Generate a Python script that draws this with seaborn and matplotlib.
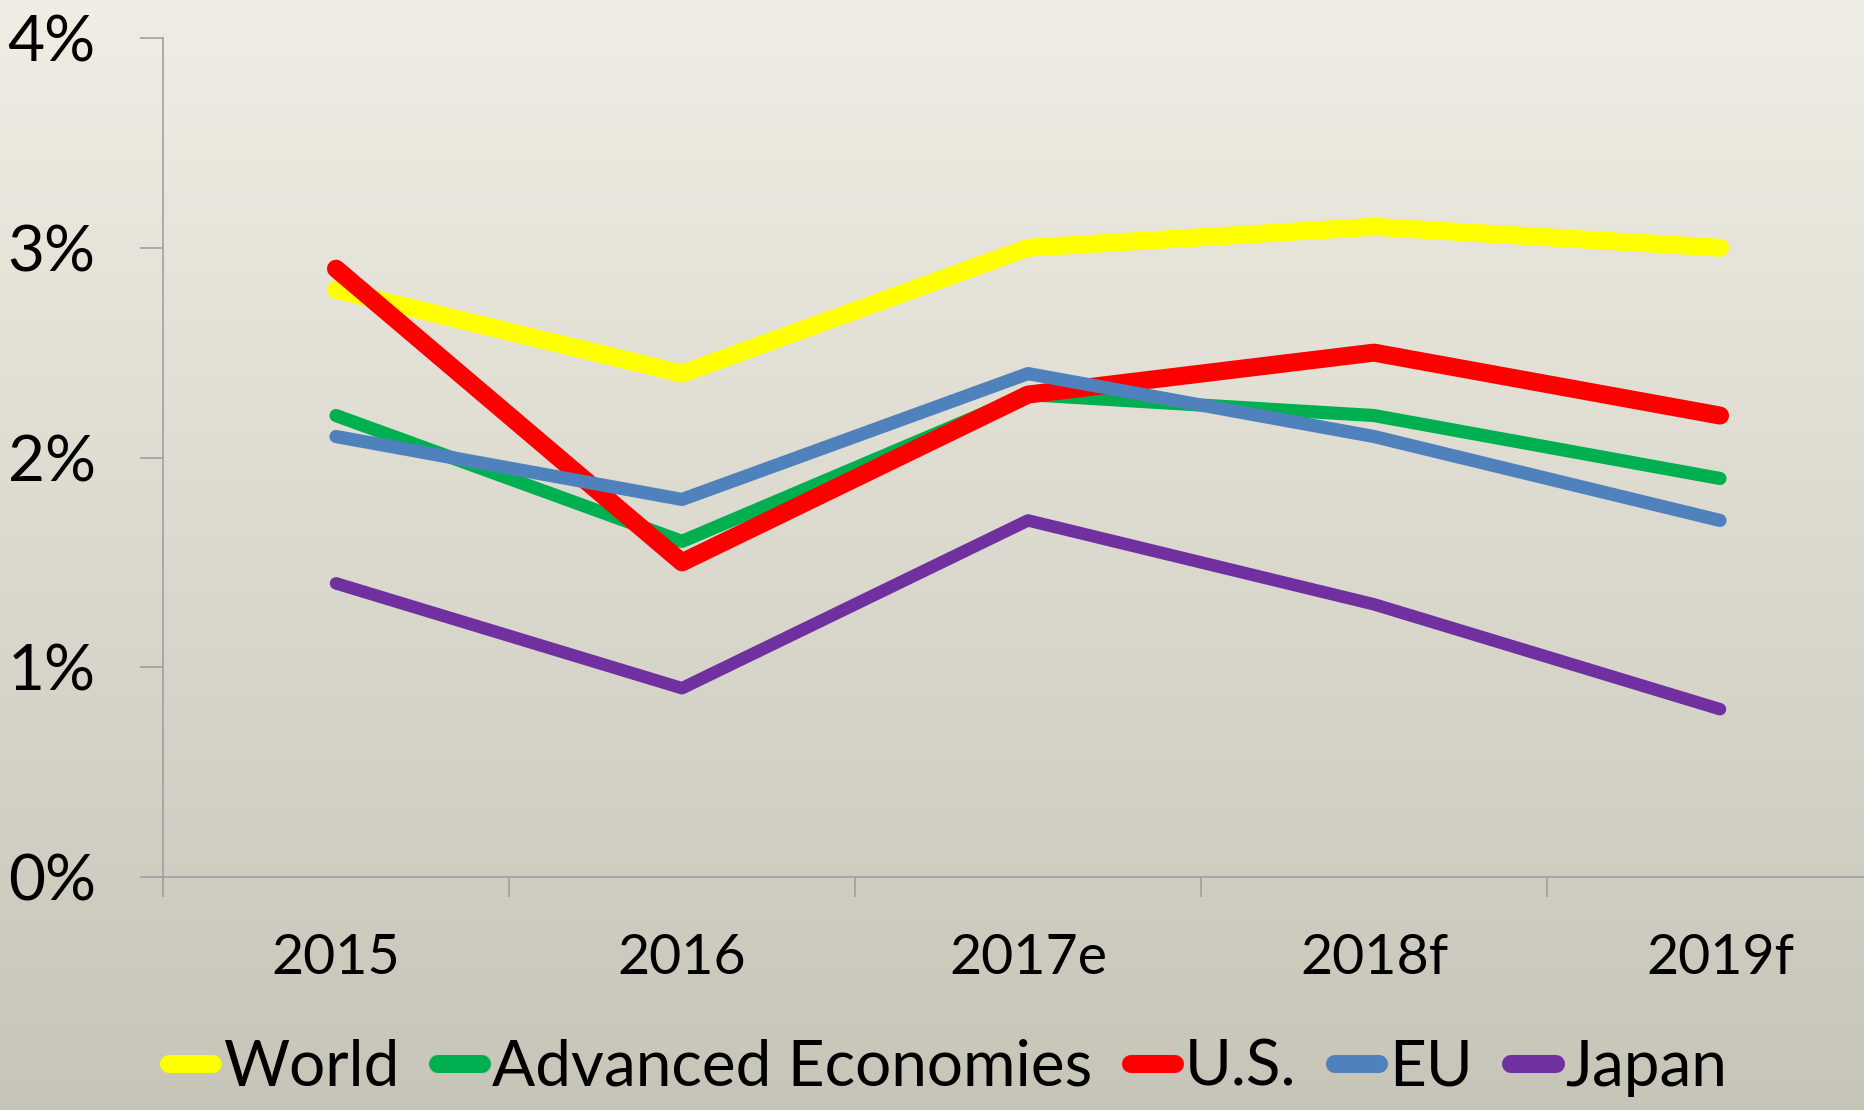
import numpy as np
import pandas as pd
import seaborn as sns
import matplotlib.pyplot as plt
from matplotlib.colors import LinearSegmentedColormap
from matplotlib.lines import Line2D

years = ['2015', '2016', '2017e', '2018f', '2019f']
world = [2.8, 2.4, 3.0, 3.1, 3.0]
advanced = [2.2, 1.6, 2.3, 2.2, 1.9]
us = [2.9, 1.5, 2.3, 2.5, 2.2]
eu = [2.1, 1.8, 2.4, 2.1, 1.7]
japan = [1.4, 0.9, 1.7, 1.3, 0.8]

series_names = ['World', 'Advanced Economies', 'U.S.', 'EU', 'Japan']
series_values = [world, advanced, us, eu, japan]
colors = ['#ffff00', '#00b050', '#ff0000', '#4f81bd', '#7030a0']
widths = [13, 9.5, 13, 9.5, 9]

sns.set_style('white')
plt.rcParams['font.family'] = ['Lato', 'DejaVu Sans']
plt.rcParams['text.color'] = 'black'
plt.rcParams['xtick.labelcolor'] = 'black'
plt.rcParams['ytick.labelcolor'] = 'black'

fig = plt.figure(figsize=(18.65, 11.10), dpi=100)

# gradient background
bg = fig.add_axes([0, 0, 1, 1], zorder=0)
cmap = LinearSegmentedColormap.from_list('bg', ['#f0eee4', '#c7c4b8'])
bg.imshow(np.linspace(0, 1, 256).reshape(-1, 1), aspect='auto', cmap=cmap,
          extent=[0, 1, 0, 1])
bg.axis('off')

ax = fig.add_axes([163 / 1865, 233 / 1110, 1 - 163 / 1865, (877 - 38) / 1110], zorder=1)
ax.patch.set_alpha(0)

for name, vals, c, lw in zip(series_names, series_values, colors, widths):
    df = pd.DataFrame({'year': years, 'value': vals})
    sns.lineplot(data=df, x='year', y='value', ax=ax, color=c, lw=lw,
                 solid_capstyle='round', solid_joinstyle='round', label=name,
                 legend=False)

ax.set_ylim(0, 4)
ax.set_xlim(-0.5, (1865 - 163) / 346 - 0.5)
ax.set_yticks([0, 1, 2, 3, 4])
ax.set_yticklabels(['0%', '1%', '2%', '3%', '4%'], fontsize=46)
ax.set_xticks(range(len(years)))
ax.set_xticklabels(years, fontsize=40)
ax.set_xticks(np.arange(-0.5, 4.5, 1), minor=True)
ax.tick_params(axis='x', which='major', bottom=True, length=0, pad=40)
ax.tick_params(axis='x', which='minor', bottom=True, length=14.5, width=1.2, color='#a0a0a0')
ax.tick_params(axis='y', left=True, length=16.5, width=1.2, color='#a0a0a0', pad=32)
ax.set_xlabel('')
ax.set_ylabel('')
for side in ['top', 'right']:
    ax.spines[side].set_visible(False)
for side in ['left', 'bottom']:
    ax.spines[side].set_color('#a0a0a0')
    ax.spines[side].set_linewidth(1.2)

handles = [Line2D([], [], color=c, lw=13, solid_capstyle='round') for c in colors]
fig.legend(handles, series_names, loc='center', bbox_to_anchor=(948 / 1865, 1 - 1068 / 1110),
           ncol=5, frameon=False, fontsize=46, handlelength=0.7, handletextpad=0.15,
           columnspacing=0.6)

fig.savefig('out.png', dpi=100)
